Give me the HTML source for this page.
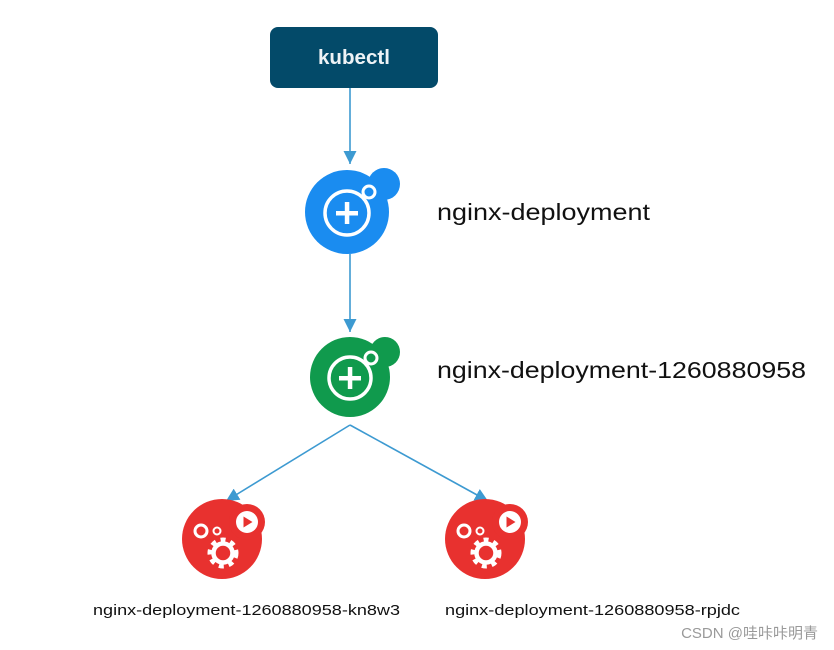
<!DOCTYPE html>
<html><head><meta charset="utf-8"><style>
html,body{margin:0;padding:0;background:#fff;}
svg{display:block;}
text{font-family:"Liberation Sans","Noto Sans CJK SC",sans-serif;}
</style></head><body>
<svg width="834" height="650" viewBox="0 0 834 650" xmlns="http://www.w3.org/2000/svg">
<defs>
<marker id="ah" markerWidth="14" markerHeight="14" refX="13" refY="6.5" orient="auto" markerUnits="userSpaceOnUse">
<path d="M0,0 L13,6.5 L0,13 Z" fill="#3d9ad1"/>
</marker>
<g id="gear">
<circle r="12" fill="none" stroke="#fff" stroke-width="7" stroke-dasharray="4.5 4.5"/>
<circle r="9.5" fill="none" stroke="#fff" stroke-width="4.5"/>
</g>
</defs>
<rect x="270" y="27" width="168" height="61" rx="8" fill="#034a69"/>
<text x="354" y="64" font-size="20" font-weight="bold" fill="#eef3f6" text-anchor="middle" textLength="72" lengthAdjust="spacingAndGlyphs">kubectl</text>

<g stroke="#3d9ad1" stroke-width="1.6" fill="none">
<line x1="350" y1="88" x2="350" y2="164" marker-end="url(#ah)"/>
<line x1="350" y1="254" x2="350" y2="332" marker-end="url(#ah)"/>
<line x1="350" y1="425" x2="226" y2="501" marker-end="url(#ah)"/>
<line x1="350" y1="425" x2="488" y2="501" marker-end="url(#ah)"/>
</g>

<g>
<circle cx="347" cy="212" r="42" fill="#1a8cf0"/>
<circle cx="384" cy="184" r="16" fill="#1a8cf0"/>
<circle cx="347" cy="213" r="22" fill="none" stroke="#fff" stroke-width="3.5"/>
<circle cx="369" cy="192" r="6" fill="#1a8cf0" stroke="#fff" stroke-width="3"/>
<rect x="336" y="211" width="22" height="4.5" fill="#fff"/>
<rect x="344.8" y="202" width="4.5" height="22" fill="#fff"/>
</g>
<text x="437" y="220" font-size="23" fill="#111" textLength="213" lengthAdjust="spacingAndGlyphs">nginx-deployment</text>

<g>
<circle cx="350" cy="377" r="40" fill="#109a4d"/>
<circle cx="385" cy="352" r="15" fill="#109a4d"/>
<circle cx="350" cy="378" r="21" fill="none" stroke="#fff" stroke-width="3.5"/>
<circle cx="371" cy="358" r="6" fill="#109a4d" stroke="#fff" stroke-width="3"/>
<rect x="339" y="376" width="22" height="4.5" fill="#fff"/>
<rect x="347.8" y="367" width="4.5" height="22" fill="#fff"/>
</g>
<text x="437" y="378" font-size="23" fill="#111" textLength="369" lengthAdjust="spacingAndGlyphs">nginx-deployment-1260880958</text>

<g transform="translate(222,539)">
<circle r="40" fill="#e8312f"/>
<circle cx="25" cy="-17" r="18" fill="#e8312f"/>
<circle cx="25" cy="-17" r="11" fill="#fff"/>
<path d="M21.5,-22.5 L30.5,-17 L21.5,-11.5 Z" fill="#e8312f"/>
<use href="#gear" x="1" y="14"/>
<circle cx="-21" cy="-8" r="6" fill="none" stroke="#fff" stroke-width="3"/>
<circle cx="-5" cy="-8" r="3.5" fill="none" stroke="#fff" stroke-width="2"/>
</g>
<g transform="translate(485,539)">
<circle r="40" fill="#e8312f"/>
<circle cx="25" cy="-17" r="18" fill="#e8312f"/>
<circle cx="25" cy="-17" r="11" fill="#fff"/>
<path d="M21.5,-22.5 L30.5,-17 L21.5,-11.5 Z" fill="#e8312f"/>
<use href="#gear" x="1" y="14"/>
<circle cx="-21" cy="-8" r="6" fill="none" stroke="#fff" stroke-width="3"/>
<circle cx="-5" cy="-8" r="3.5" fill="none" stroke="#fff" stroke-width="2"/>
</g>
<text x="93" y="615" font-size="15" fill="#111" textLength="307" lengthAdjust="spacingAndGlyphs">nginx-deployment-1260880958-kn8w3</text>
<text x="445" y="615" font-size="15" fill="#111" textLength="295" lengthAdjust="spacingAndGlyphs">nginx-deployment-1260880958-rpjdc</text>
<text x="818" y="638" font-size="15" fill="#999" text-anchor="end">CSDN @哇咔咔明青</text>
</svg>
</body></html>
